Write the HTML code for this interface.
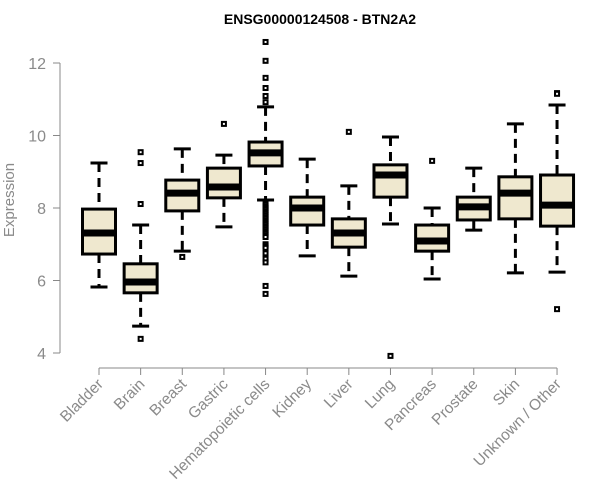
<!DOCTYPE html>
<html><head><meta charset="utf-8"><style>
body{margin:0;background:#fff;}
svg{display:block;font-family:"Liberation Sans",Arial,sans-serif;}
</style></head><body>
<svg id="chart" width="600" height="500"></svg>
<script>
const categories=["Bladder","Brain","Breast","Gastric","Hematopoietic cells","Kidney","Liver","Lung","Pancreas","Prostate","Skin","Unknown / Other"];
const whiskLow=[5.82,4.74,6.81,7.48,8.22,6.68,6.12,7.56,6.04,7.39,6.21,6.23];
const q1=[6.73,5.66,7.92,8.28,9.16,7.53,6.92,8.30,6.81,7.67,7.70,7.50];
const medians=[7.31,5.96,8.41,8.58,9.52,8.00,7.31,8.91,7.09,8.03,8.41,8.08];
const q3=[7.97,6.46,8.77,9.10,9.82,8.30,7.70,9.19,7.53,8.30,8.86,8.91];
const whiskHigh=[9.24,7.53,9.63,9.46,10.79,9.35,8.61,9.96,8.00,9.10,10.32,10.84];
const outliers=[[],[9.54,9.24,8.11,4.39],[6.65],[10.32],
[12.58,12.06,11.59,11.31,11.09,10.92,8.1,8.05,8.0,7.95,7.9,7.85,7.8,7.75,7.7,7.65,7.6,7.55,7.5,7.45,7.4,7.35,7.3,7.25,7.2,7.0,6.95,6.9,6.75,6.6,6.5,5.85,5.63],
[],[10.10],[3.92],[9.30],[],[],[11.17,11.15,5.21]];
const yTicks=[4,6,8,10,12];

const svg=document.getElementById('chart');
const NS='http://www.w3.org/2000/svg';
const y=v=>353-(v-4)*36.25;
const x=i=>99+i*41.64;
function mk(tag,attrs,parent){const e=document.createElementNS(NS,tag);for(const k in attrs)e.setAttribute(k,attrs[k]);(parent||svg).appendChild(e);return e;}

const title=mk('text',{x:320,y:24,'text-anchor':'middle','font-size':14,'font-weight':'bold',fill:'#000'});
title.textContent='ENSG00000124508 - BTN2A2';



const yl=mk('text',{x:0,y:0,transform:'translate(14,200) rotate(-90)','text-anchor':'middle','font-size':15,fill:'#8a8a8a'});
yl.textContent='Expression';



const ya=mk('line',{x1:60,x2:60,y1:y(12),y2:y(4),stroke:'#888','stroke-width':1});


yTicks.forEach(t=>{
  const tk=mk('line',{x1:53,x2:60,y1:y(t),y2:y(t),stroke:'#888'});
  
  
  const tl=mk('text',{x:46,y:y(t)+6,'text-anchor':'end','font-size':16,fill:'#8a8a8a'});
  tl.textContent=t;
  
  
});
const xa=mk('line',{x1:x(0),x2:x(categories.length-1),y1:368,y2:368,stroke:'#888'});



categories.forEach((c,i)=>{
  const cx=x(i);
  const tk=mk('line',{x1:cx,x2:cx,y1:368,y2:375,stroke:'#888'});
  
  
  const tl=mk('text',{x:0,y:0,transform:`translate(${cx+5},${385}) rotate(-45)`,'text-anchor':'end','font-size':15.5,fill:'#8a8a8a'});
  tl.textContent=c;
  
  

  const g=mk('g',{});
  
  
  const hw=16.5;
  mk('line',{x1:cx,x2:cx,y1:y(whiskHigh[i]),y2:y(q3[i]),stroke:'#000','stroke-width':3,'stroke-dasharray':'9,6'},g);
  mk('line',{x1:cx,x2:cx,y1:y(q1[i]),y2:y(whiskLow[i]),stroke:'#000','stroke-width':3,'stroke-dasharray':'9,6'},g);
  mk('line',{x1:cx-8.5,x2:cx+8.5,y1:y(whiskHigh[i]),y2:y(whiskHigh[i]),stroke:'#000','stroke-width':3},g);
  mk('line',{x1:cx-8.5,x2:cx+8.5,y1:y(whiskLow[i]),y2:y(whiskLow[i]),stroke:'#000','stroke-width':3},g);
  mk('rect',{x:cx-hw,y:y(q3[i]),width:hw*2,height:y(q1[i])-y(q3[i]),fill:'#efe8cf',stroke:'#000','stroke-width':3},g);
  mk('line',{x1:cx-hw,x2:cx+hw,y1:y(medians[i]),y2:y(medians[i]),stroke:'#000','stroke-width':7},g);
  outliers[i].forEach(v=>{
    mk('rect',{x:cx-2,y:y(v)-2,width:4,height:4,fill:'#fff',stroke:'#000','stroke-width':2},g);
  });
});
</script>
</body></html>
